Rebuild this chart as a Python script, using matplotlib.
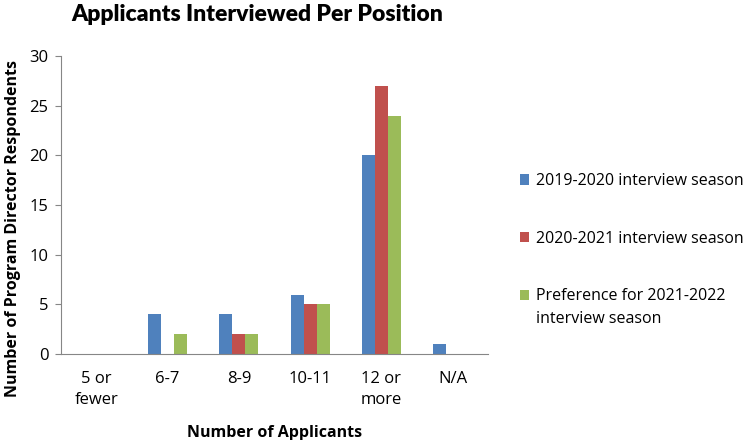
import numpy as np
import matplotlib.pyplot as plt

plt.rcParams['font.family'] = ['Open Sans', 'DejaVu Sans']

categories = ['5 or\nfewer', '6-7', '8-9', '10-11', '12 or\nmore', 'N/A']
season_2019 = [0, 4, 4, 6, 20, 1]
season_2020 = [0, 0, 2, 5, 27, 0]
pref_2021 = [0, 2, 2, 5, 24, 0]
labels = ['2019-2020 interview season',
          '2020-2021 interview season',
          'Preference for 2021-2022']
label_extra = 'interview season'
colors = ['#4F81BD', '#C0504D', '#9BBB59']

fig = plt.figure(figsize=(7.5, 4.4), dpi=100)
ax = fig.add_axes([0.081, 0.195, 0.57, 0.678])

x = np.arange(len(categories))
w = 0.183
for i, (vals, lab, c) in enumerate(zip([season_2019, season_2020, pref_2021],
                                       labels, colors)):
    ax.bar(x + (i - 1) * w, vals, width=w, color=c, label=lab)

ax.set_xlim(-0.5, len(categories) - 0.5)
ax.set_ylim(0, 30)
ax.set_yticks(range(0, 31, 5))
ax.set_xticks(x)
ax.set_xticklabels(categories, fontsize=12, linespacing=1.45)
ax.tick_params(axis='y', labelsize=12, length=4, color='#868686', pad=5)
ax.tick_params(axis='x', length=0, pad=12)
for s in ['top', 'right']:
    ax.spines[s].set_visible(False)
for s in ['left', 'bottom']:
    ax.spines[s].set_color('#868686')

ax.set_ylabel('Number of Program Director Respondents', fontsize=11.5,
              fontweight='bold')
ax.yaxis.set_label_coords(-0.092, 0.42)
ax.set_xlabel('Number of Applicants', fontsize=11.5, fontweight='bold',
              labelpad=12)

fig.suptitle('Applicants Interviewed Per Position', fontsize=16.5,
             fontweight='heavy', x=0.343, y=0.99,
             family=['Lato', 'Open Sans', 'DejaVu Sans'])

leg = ax.legend(loc='upper left', bbox_to_anchor=(1.04, 0.655), frameon=False,
                fontsize=11.5, handlelength=0.6, handleheight=0.6,
                handletextpad=0.45, labelspacing=2.6)

# second line of the third legend entry, set below its first line
fig.canvas.draw()
bb = leg.get_texts()[2].get_window_extent().transformed(fig.transFigure.inverted())
fig.text(bb.x0, bb.y0 - 7 / 440, label_extra, fontsize=11.5, va='top', ha='left')

plt.savefig('out.png', dpi=100)
